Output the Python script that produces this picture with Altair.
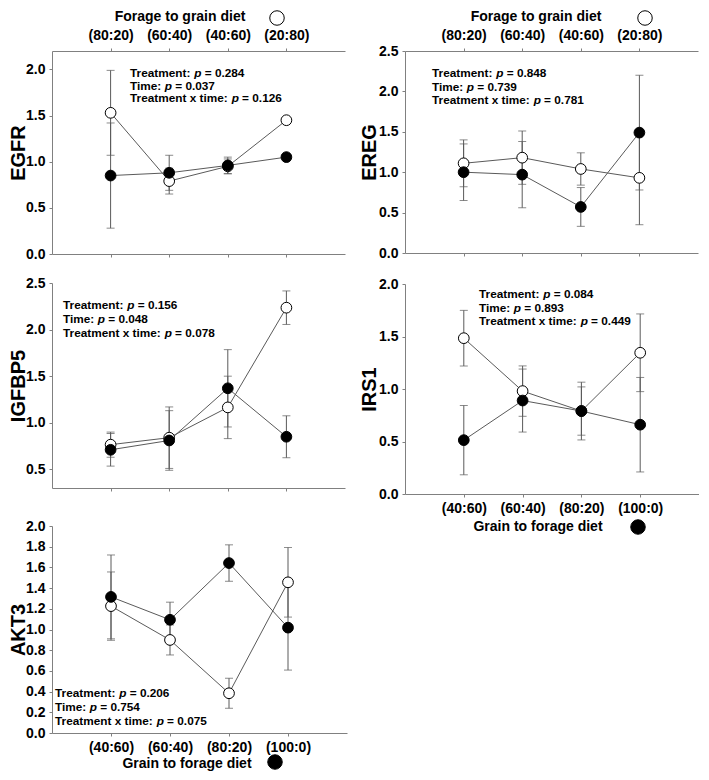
import json
import altair as alt
import pandas as pd

# ---------------- data ----------------
x_pos = [1, 2, 3, 4]
top_labels = ["(80:20)", "(60:40)", "(40:60)", "(20:80)"]
bottom_labels = ["(40:60)", "(60:40)", "(80:20)", "(100:0)"]
forage_title = "Forage to grain diet"
grain_title = "Grain to forage diet"

egfr_open = [1.53, 0.79, 0.95, 1.45]
egfr_open_se = [0.46, 0.14, 0.08, 0.0]
egfr_filled = [0.85, 0.88, 0.96, 1.05]
egfr_filled_se = [0.57, 0.19, 0.09, 0.0]
egfr_p = ["0.284", "0.037", "0.126"]

ereg_open = [1.11, 1.18, 1.04, 0.93]
ereg_open_se = [0.29, 0.33, 0.20, 0.58]
ereg_filled = [1.00, 0.97, 0.57, 1.49]
ereg_filled_se = [0.35, 0.41, 0.24, 0.71]
ereg_p = ["0.848", "0.739", "0.781"]

igfbp5_open = [0.765, 0.84, 1.165, 2.235]
igfbp5_open_se = [0.135, 0.33, 0.335, 0.18]
igfbp5_filled = [0.71, 0.81, 1.37, 0.85]
igfbp5_filled_se = [0.175, 0.32, 0.415, 0.225]
igfbp5_p = ["0.156", "0.048", "0.078"]

irs1_open = [1.484, 0.98, 0.79, 1.345]
irs1_open_se = [0.265, 0.24, 0.23, 0.37]
irs1_filled = [0.513, 0.89, 0.79, 0.66]
irs1_filled_se = [0.33, 0.30, 0.275, 0.45]
irs1_p = ["0.084", "0.893", "0.449"]

akt3_open = [1.226, 0.899, 0.384, 1.456]
akt3_open_se = [0.33, 0.145, 0.145, 0.336]
akt3_filled = [1.315, 1.094, 1.642, 1.018]
akt3_filled_se = [0.405, 0.17, 0.176, 0.41]
akt3_p = ["0.206", "0.754", "0.075"]

# ---------------- style ----------------
FONT = "Liberation Sans"
AXIS_GRAY = "#808080"
LINE_GRAY = "#5a5a5a"
ANN_SIZE = 11.8

# Arial-bold advance widths (per em) for placing the italic "p"
W = {" ": .278, ":": .333, "=": .584, ".": .278, "T": .611, "r": .389, "e": .556,
     "a": .556, "t": .333, "m": .889, "n": .611, "i": .278, "x": .556, "p": .611}
for d in "0123456789":
    W[d] = .556


def text_w(s, size):
    return sum(W.get(c, .556) for c in s) * size


one = pd.DataFrame({"k": [0]})


def label_expr(labels):
    return json.dumps([""] + labels + [""]) + "[round(datum.value)]"


def x_axis(orient, labels):
    kw = dict(orient=orient, values=x_pos, title=None, grid=False, domainColor=AXIS_GRAY,
              tickColor=AXIS_GRAY, tickSize=3, domainWidth=1)
    if labels:
        kw.update(labelExpr=label_expr(labels), labelFont=FONT, labelFontSize=14,
                  labelFontWeight="bold", labelColor="black",
                  labelPadding=6 if orient == "top" else 4)
    else:
        kw.update(labels=False)
    return alt.Axis(**kw)


def text_layer(x, y, s, size, style="normal", align="left", weight="bold"):
    return alt.Chart(one).mark_text(
        align=align, baseline="middle", font=FONT, fontSize=size, fontWeight=weight,
        fontStyle=style, color="black"
    ).encode(x=alt.value(x), y=alt.value(y), text=alt.value(s))


def panel(name, om, ose, fm, fse, pvals, ydom, yticks, w, h, title_x,
          top_lab, top_dom, bot_lab, ann_x, ann_y, ann_dy, diet=None):
    df = pd.DataFrame({
        "x": x_pos * 2,
        "grp": ["open"] * 4 + ["filled"] * 4,
        "mean": om + fm,
        "se": ose + fse,
    })
    df["lo"] = df["mean"] - df["se"]
    df["hi"] = df["mean"] + df["se"]

    xs = alt.Scale(domain=[0, 5], nice=False, zero=False)
    ys = alt.Scale(domain=ydom, nice=False, zero=False)
    yax = alt.Axis(values=yticks, format=".1f", grid=False, title=name, titleFont=FONT,
                   titleFontSize=20, titleFontWeight="bold", titleColor="black",
                   titleX=title_x, titleY=h / 2, titleAlign="center", titleBaseline="alphabetic",
                   labelFont=FONT, labelFontSize=14, labelFontWeight="bold", labelColor="black",
                   labelPadding=4, tickSize=3, domainColor=AXIS_GRAY, tickColor=AXIS_GRAY)
    base = alt.Chart(df)

    lines = base.mark_line(color=LINE_GRAY, strokeWidth=1).encode(
        x=alt.X("x:Q", scale=xs, axis=x_axis("bottom", bot_lab)),
        y=alt.Y("mean:Q", scale=ys, axis=yax),
        detail="grp:N",
    )
    top_axis = x_axis("top", top_lab) if top_dom else None
    rules = base.mark_rule(color=LINE_GRAY, strokeWidth=1).encode(
        x=alt.X("x:Q", scale=xs, axis=top_axis),
        y=alt.Y("lo:Q", scale=ys, axis=yax),
        y2="hi:Q",
    )
    cap_lo = base.mark_tick(orient="horizontal", size=8, thickness=1, color=LINE_GRAY).encode(
        x=alt.X("x:Q", scale=xs, axis=None), y=alt.Y("lo:Q", scale=ys, axis=yax))
    cap_hi = base.mark_tick(orient="horizontal", size=8, thickness=1, color=LINE_GRAY).encode(
        x=alt.X("x:Q", scale=xs, axis=None), y=alt.Y("hi:Q", scale=ys, axis=yax))
    pts = base.mark_circle(size=115, stroke="black", strokeWidth=1, opacity=1).encode(
        x=alt.X("x:Q", scale=xs, axis=None),
        y=alt.Y("mean:Q", scale=ys, axis=yax),
        fill=alt.Fill("grp:N", scale=alt.Scale(domain=["open", "filled"], range=["white", "black"]),
                      legend=None),
    )
    layers = [lines, rules, cap_lo, cap_hi, pts]

    prefixes = ["Treatment: ", "Time: ", "Treatment x time: "]
    for i, (pre, pv) in enumerate(zip(prefixes, pvals)):
        yy = ann_y + i * ann_dy
        x1 = ann_x + text_w(pre, ANN_SIZE)
        x2 = x1 + text_w("p ", ANN_SIZE)
        layers.append(text_layer(ann_x, yy, pre.strip(), ANN_SIZE))
        layers.append(text_layer(x1, yy, "p", ANN_SIZE, style="italic"))
        layers.append(text_layer(x2, yy, "= " + pv, ANN_SIZE))

    if diet is not None:
        label, tx, ty, cx, cy, filled = diet
        layers.append(text_layer(tx, ty, label, 14, align="center"))
        layers.append(alt.Chart(one).mark_point(
            shape="circle", size=210, filled=True, fill="black" if filled else "white",
            stroke="black", strokeWidth=1, opacity=1
        ).encode(x=alt.value(cx), y=alt.value(cy)))

    return alt.layer(*layers).resolve_axis(x="independent").properties(width=w, height=h)


egfr = panel("EGFR", egfr_open, egfr_open_se, egfr_filled, egfr_filled_se, egfr_p,
             [0, 2.2], [0, 0.5, 1.0, 1.5, 2.0], 293, 203, -28,
             top_labels, True, None, 78, 22, 12.5,
             diet=(forage_title, 128, -34, 225, -33, False))
igfbp5 = panel("IGFBP5", igfbp5_open, igfbp5_open_se, igfbp5_filled, igfbp5_filled_se, igfbp5_p,
               [0.3, 2.5], [0.5, 1.0, 1.5, 2.0, 2.5], 293, 205, -28,
               None, False, None, 11, 22, 14)
akt3 = panel("AKT3", akt3_open, akt3_open_se, akt3_filled, akt3_filled_se, akt3_p,
             [0, 2.0], [0, 0.2, 0.4, 0.6, 0.8, 1.0, 1.2, 1.4, 1.6, 1.8, 2.0], 295, 207, -28,
             None, False, bottom_labels, 3, 167, 13.8,
             diet=(grain_title, 135, 207 + 31, 223, 207 + 29, True))
ereg = panel("EREG", ereg_open, ereg_open_se, ereg_filled, ereg_filled_se, ereg_p,
             [0, 2.5], [0, 0.5, 1.0, 1.5, 2.0, 2.5], 293, 202, -30,
             top_labels, True, None, 27, 22, 13.7,
             diet=(forage_title, 131, -34, 240, -33, False))
irs1 = panel("IRS1", irs1_open, irs1_open_se, irs1_filled, irs1_filled_se, irs1_p,
             [0, 2.0], [0, 0.5, 1.0, 1.5, 2.0], 294, 210, -30,
             None, False, bottom_labels, 74, 10, 13.7,
             diet=(grain_title, 133, 210 + 33, 233, 210 + 33, True))

left = alt.vconcat(alt.vconcat(egfr, igfbp5, spacing=15), akt3, spacing=27)
right = alt.vconcat(ereg, irs1, spacing=17)

chart = alt.hconcat(left, right, spacing=12).properties(
    padding=0, background="white"
).configure_view(stroke=None)

chart.save("out.html", embed_options={"renderer": "svg", "actions": False})
